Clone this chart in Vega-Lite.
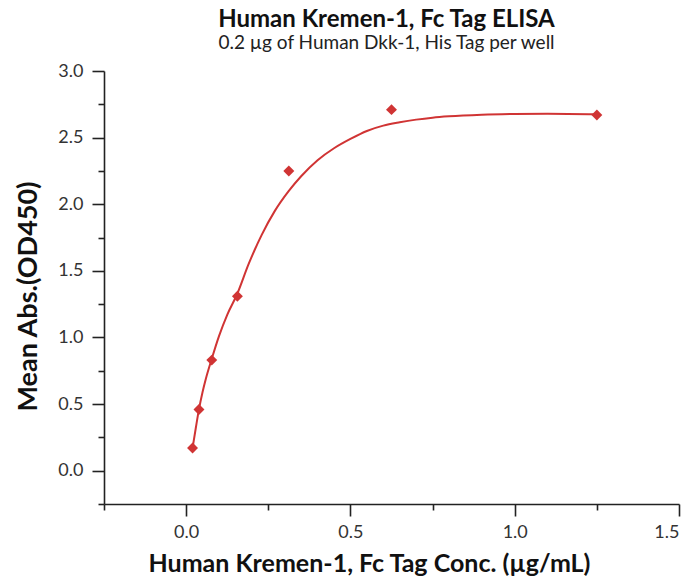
{
  "$schema": "https://vega.github.io/schema/vega-lite/v6.json",
  "width": 575,
  "height": 433,
  "autosize": {"type": "none"},
  "padding": {"left": 104, "top": 71, "right": 14, "bottom": 80},
  "background": "white",
  "config": {
    "view": {"stroke": null},
    "font": "Lato",
    "axis": {"grid": false, "domainColor": "#222222", "tickColor": "#222222", "domainWidth": 1.6, "tickWidth": 1.6, "labelColor": "#333333", "titleColor": "#111111"}
  },
  "title": {
    "text": "Human Kremen-1, Fc Tag ELISA",
    "subtitle": "0.2 µg of Human Dkk-1, His Tag per well",
    "font": "Lato",
    "fontSize": 24,
    "fontWeight": "bold",
    "color": "#111111",
    "subtitleFont": "Lato",
    "subtitleFontSize": 19,
    "subtitleColor": "#222222",
    "subtitlePadding": 2,
    "anchor": "middle",
    "dx": -5,
    "offset": 9
  },
  "datasets": {
    "points": [
      {"conc": 0.0195, "od": 0.17},
      {"conc": 0.039, "od": 0.46},
      {"conc": 0.078, "od": 0.83},
      {"conc": 0.156, "od": 1.31},
      {"conc": 0.3125, "od": 2.25},
      {"conc": 0.625, "od": 2.71},
      {"conc": 1.25, "od": 2.67}
    ],
    "curve": [
      {"conc": 0.0195, "od": 0.17},
      {"conc": 0.03, "od": 0.33},
      {"conc": 0.039, "od": 0.46},
      {"conc": 0.05, "od": 0.59},
      {"conc": 0.06, "od": 0.69},
      {"conc": 0.078, "od": 0.84},
      {"conc": 0.1, "od": 1.01},
      {"conc": 0.125, "od": 1.17},
      {"conc": 0.156, "od": 1.33},
      {"conc": 0.19, "od": 1.55},
      {"conc": 0.23, "od": 1.77},
      {"conc": 0.27, "od": 1.95},
      {"conc": 0.3125, "od": 2.1},
      {"conc": 0.35, "od": 2.21},
      {"conc": 0.4, "od": 2.33},
      {"conc": 0.45, "od": 2.42},
      {"conc": 0.5, "od": 2.49},
      {"conc": 0.55, "od": 2.55},
      {"conc": 0.6, "od": 2.59},
      {"conc": 0.65, "od": 2.615},
      {"conc": 0.7, "od": 2.635},
      {"conc": 0.75, "od": 2.65},
      {"conc": 0.8, "od": 2.66},
      {"conc": 0.9, "od": 2.672},
      {"conc": 1.0, "od": 2.678},
      {"conc": 1.1, "od": 2.68},
      {"conc": 1.25, "od": 2.675}
    ]
  },
  "layer": [
    {
      "data": {"name": "curve"},
      "mark": {"type": "line", "color": "#d03434", "strokeWidth": 2, "interpolate": "monotone"},
      "encoding": {
        "x": {
          "field": "conc", "type": "quantitative",
          "scale": {"domain": [-0.25, 1.5], "nice": false, "zero": false},
          "axis": {
            "orient": "bottom",
            "values": [0, 0.5, 1, 1.5],
            "format": ".1f",
            "tickSize": 12,
            "labelFontSize": 18,
            "labelPadding": 7,
            "title": "Human Kremen-1, Fc Tag Conc. (µg/mL)",
            "titleFontSize": 25,
            "titleFontWeight": "bold",
            "titleX": 265,
            "titleY": 67,
            "titleBaseline": "alphabetic"
          }
        },
        "y": {
          "field": "od", "type": "quantitative",
          "scale": {"domain": [-0.25, 3.0], "nice": false, "zero": false},
          "axis": {
            "orient": "left",
            "values": [0, 0.5, 1, 1.5, 2, 2.5, 3],
            "format": ".1f",
            "tickSize": 12,
            "labelFontSize": 18,
            "labelPadding": 9,
            "title": "Mean Abs.(OD450)",
            "titleFontSize": 27,
            "titleFontWeight": "bold",
            "titleX": -76,
            "titleY": 225,
            "titleAngle": -90,
            "titleBaseline": "middle",
            "titleAlign": "center"
          }
        }
      }
    },
    {
      "data": {"name": "points"},
      "mark": {"type": "point", "shape": "diamond", "filled": true, "size": 120, "color": "#d03434", "opacity": 1},
      "encoding": {
        "x": {
          "field": "conc", "type": "quantitative",
          "axis": {"orient": "bottom", "values": [-0.25, 0.25, 0.75, 1.25], "tickSize": 6, "labels": false, "domain": false, "title": null}
        },
        "y": {
          "field": "od", "type": "quantitative",
          "axis": {"orient": "left", "values": [-0.25, 0.25, 0.75, 1.25, 1.75, 2.25, 2.75], "tickSize": 6, "labels": false, "domain": false, "title": null}
        }
      }
    }
  ],
  "resolve": {"axis": {"x": "independent", "y": "independent"}}
}
